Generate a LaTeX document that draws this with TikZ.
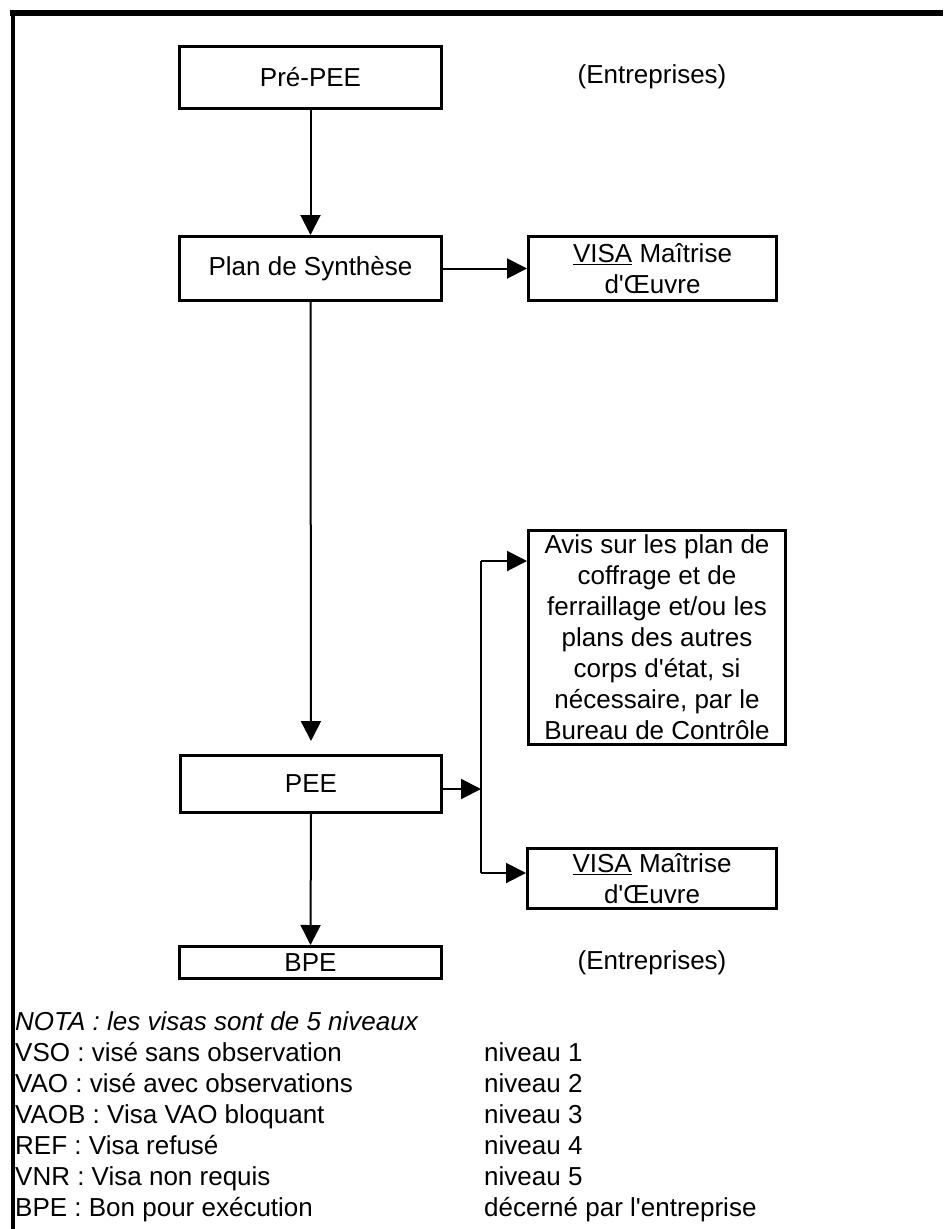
\documentclass[tikz,border=0pt]{standalone}
\usepackage{fontspec}
\setmainfont{Liberation Sans}
\usetikzlibrary{arrows.meta}
\newcommand{\apo}{\textquotesingle}
\begin{document}
\begin{tikzpicture}[x=1pt,y=-1pt,
  box/.style={draw, line width=3pt, inner sep=0pt, align=center, font=\fontsize{26}{31}\selectfont},
  conn/.style={line width=2pt, -{Triangle[length=20pt,width=20pt]}},
  wire/.style={line width=2pt},
  txt/.style={inner sep=0pt, font=\fontsize{26}{31}\selectfont},
  legend/.style={inner sep=0pt, anchor=base west, font=\fontsize{26}{31}\selectfont},
  frame/.style={line width=6pt},
]
\useasboundingbox (0,0) rectangle (943,1229);
% frame
\draw[frame] (10,13) -- (943,13);
\draw[frame, line width=4pt] (13,10) -- (13,1229);

% boxes
\node[box, minimum width=262pt, minimum height=62pt] (prepee) at (310.5,77) {Pré-PEE};
\node[txt] (ent1) at (652,77) {(Entreprises)};
\node[box, minimum width=262pt, minimum height=64pt] (plan) at (310.5,268.5) {Plan de Synthèse};
\node[box, minimum width=248pt, minimum height=64pt] (visa1) at (652.5,268.5) {\underline{VISA} Maîtrise\\d\apo Œuvre};
\node[box, minimum width=257pt, minimum height=214pt] (avis) at (657,637.5) {Avis sur les plan de\\coffrage et de\\ferraillage et/ou les\\plans des autres\\corps d\apo état, si\\nécessaire, par le\\Bureau de Contrôle};
\node[box, minimum width=261pt, minimum height=57pt] (pee) at (311,784) {PEE};
\node[box, minimum width=249pt, minimum height=60pt] (visa2) at (652,878.5) {\underline{VISA} Maîtrise\\d\apo Œuvre};
\node[box, minimum width=262pt, minimum height=32pt] (bpe) at (310.5,962.5) {BPE};
\node[txt] (ent2) at (652,962.5) {(Entreprises)};

% connectors
\coordinate (j1) at (481,561);
\coordinate (j2) at (481,873);
\draw[conn] (prepee.south) -- (plan.north);
\draw[conn] (plan.east) -- (visa1.west);
\draw[conn, shorten >=13pt] (plan.south) -- (pee.north);
\draw[conn] ([yshift=-5pt]pee.east) -- ([yshift=-5pt]pee.east -| j1);
\draw[wire] (j1) -- (j2);
\draw[conn] (j1) -- (j1 -| avis.west);
\draw[conn] (j2) -- (j2 -| visa2.west);
\draw[conn] (pee.south) -- (bpe.north);

% legend
\node[legend] (nota) at (15,1030) {\itshape NOTA : les visas sont de 5 niveaux};
\node[legend] (l1) at (15,1061) {VSO : visé sans observation};
\node[legend] (l2) at (15,1092) {VAO : visé avec observations};
\node[legend] (l3) at (15,1123) {VAOB : Visa VAO bloquant};
\node[legend] (l4) at (15,1154) {REF : Visa refusé};
\node[legend] (l5) at (15,1185) {VNR : Visa non requis};
\node[legend] (l6) at (15,1216) {BPE : Bon pour exécution};
\node[legend] (n1) at (484,1061) {niveau 1};
\node[legend] (n2) at (484,1092) {niveau 2};
\node[legend] (n3) at (484,1123) {niveau 3};
\node[legend] (n4) at (484,1154) {niveau 4};
\node[legend] (n5) at (484,1185) {niveau 5};
\node[legend] (n6) at (484,1216) {décerné par l\apo entreprise};
\end{tikzpicture}
\end{document}
